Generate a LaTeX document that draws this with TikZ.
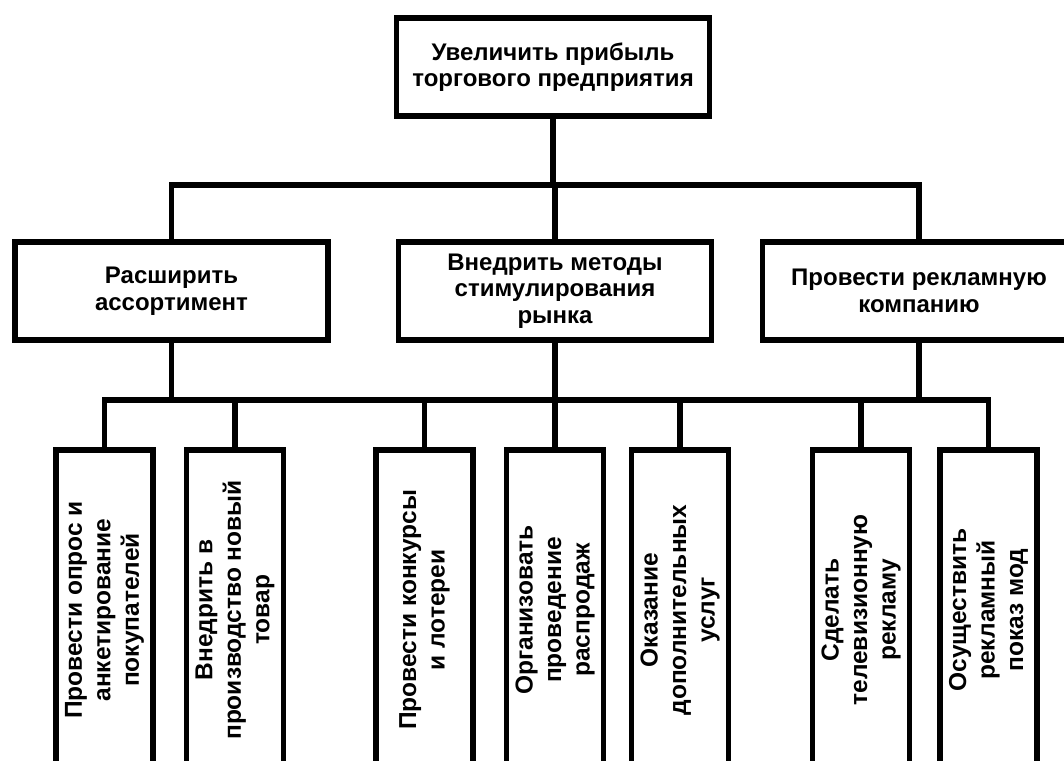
\documentclass[tikz,border=0pt]{standalone}
\usepackage{fontspec}
\setmainfont{Liberation Sans}
\tikzset{
  goal/.style={draw, line width=5.5pt, align=center, inner sep=0pt,
    minimum width=313pt, minimum height=98pt,
    font=\bfseries\fontsize{24}{26.5}\selectfont},
  task/.style={draw, line width=5.5pt, align=center, inner sep=0pt,
    rotate=90, minimum width=320pt, minimum height=97pt,
    font=\bfseries\fontsize{24.5}{28.5}\selectfont}
}

\begin{document}
\begin{tikzpicture}[x=1pt,y=-1pt,line width=5.5pt]
        \path[use as bounding box, fill=white] (0,0) rectangle (1064,760);
        % top goal
        \node[goal] (top) at (553,67) {Увеличить прибыль\\торгового предприятия};
        % second level
        \node[goal] (left) at (171.5,291) {Расширить\\ассортимент};
        \node[goal] (mid) at (555,291) {Внедрить методы\\стимулирования\\рынка};
        \node[goal] (right) at (919,291) {Провести рекламную\\компанию};
        % third level
        \node[task] (b1) at (104.5,610) {Провести опрос и\\анкетирование\\покупателей};
        \node[task] (b2) at (235,610) {Внедрить в\\производство новый\\товар};
        \node[task] (b3) at (424.5,610) {Провести конкурсы\\и лотереи};
        \node[task] (b4) at (555,610) {Организовать\\проведение\\распродаж};
        \node[task] (b5) at (680,610) {Оказание\\дополнительных\\услуг};
        \node[task] (b6) at (861,610) {Сделать\\телевизионную\\рекламу};
        \node[task] (b7) at (988.5,610) {Осуществить\\рекламный\\показ мод};
        \coordinate (busA) at (553,185);
        \coordinate (busB) at (555,400);
        % connectors
        \draw (top.south) -- (busA);
        \draw (left.north) |- (busA) -| (right.north);
        \draw (busA -| mid.north) -- (mid.north);
        \draw (b1.east) |- (busB) -| (b7.east);
        \draw (left.south) -- (left.south |- busB);
        \draw (mid.south) -- (busB);
        \draw (right.south) -- (right.south |- busB);
        %\draw (b1.east) -- (b1.east |- busB);
        \draw (b2.east) -- (b2.east |- busB);
        \draw (b3.east) -- (b3.east |- busB);
        \draw (b4.east) -- (b4.east |- busB);
        \draw (b5.east) -- (b5.east |- busB);
        \draw (b6.east) -- (b6.east |- busB);
    \end{tikzpicture}
\end{document}
